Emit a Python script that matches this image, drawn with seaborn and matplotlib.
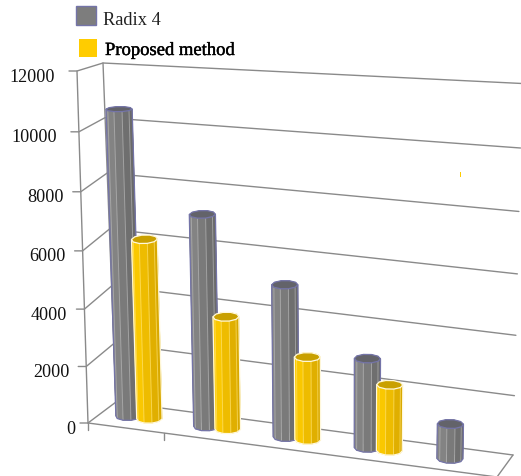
import numpy as np
import pandas as pd
import seaborn as sns
import matplotlib
matplotlib.use("Agg")
import matplotlib.pyplot as plt
import matplotlib.patheffects as pe
from matplotlib.patches import Polygon, Rectangle

# Series values per group
groups = [1, 2, 3, 4, 5]
radix_4 = [10600, 7230, 5140, 2990, 1160]
proposed = [6190, 3840, 2800, 2210, np.nan]
y_ticks = [0, 2000, 4000, 6000, 8000, 10000, 12000]
series_names = ["Radix 4", "Proposed method"]

Y_MAX = 12000
GROUP_STEP = 0.2
BAR_OFFSET = {"Radix 4": 0.069, "Proposed method": 0.123}
RADIUS_U, RADIUS_W = 0.03, 0.2
SIDES = 10

# Corners of the chart box on the canvas: (u, depth, height) each 0 or 1
BOX = {
    (0, 0, 0): (88, 423), (1, 0, 0): (497, 477), (0, 1, 0): (116, 402), (1, 1, 0): (513, 455),
    (0, 0, 1): (77, 71), (1, 0, 1): (504, 93), (0, 1, 1): (103, 63), (1, 1, 1): (522, 83.5),
}
# Perspective bow of the height scale at the four vertical box edges, and of the width scale
HEIGHT_BOW = {(0, 0): -0.044, (1, 0): -0.05, (0, 1): 0.04, (1, 1): -0.05}
WIDTH_BOW = -0.05
LABEL_GAP = {1: 13, 4: 17, 5: 22}

STYLE = {
    "Radix 4": dict(side=["#878787", "#6a6a6a"], top="#63636a", edge="#7474a8", stripe="#bdbdbd"),
    "Proposed method": dict(side=["#ffcd00", "#d9a900"], top="#c9a000", edge="#fff8dc", stripe="#ffe680"),
}
GRID = "#8a8a8a"

sns.set_theme(style="white")
plt.rcParams["font.family"] = ["Liberation Serif", "DejaVu Serif"]


def project(u, w, v):
    """Map chart-box coordinates to canvas coordinates, with a slight perspective bow."""
    t = np.asarray(v, dtype=float) / Y_MAX
    u, w = np.asarray(u, dtype=float), np.asarray(w, dtype=float)
    u = u + WIDTH_BOW * u * (1 - u)
    bow = 0.0
    for (a, b), k in HEIGHT_BOW.items():
        bow = bow + k * (u if a else 1 - u) * (w if b else 1 - w)
    t = t + bow * t * (1 - t)
    xs, ys = 0.0, 0.0
    for (a, b, c), (px, py) in BOX.items():
        k = (u if a else 1 - u) * (w if b else 1 - w) * (t if c else 1 - t)
        xs = xs + k * px
        ys = ys + k * py
    return xs, ys


def cylinder(ax, uc, value, style, z):
    ang = np.linspace(0, 2 * np.pi, SIDES + 1) + np.pi / SIDES
    us = uc + RADIUS_U * np.cos(ang)
    ws = 0.5 + RADIUS_W * np.sin(ang)
    bx, by = project(us, ws, 0)
    tx, ty = project(us, ws, value)
    shades = sns.blend_palette(style["side"], 64)

    # Side facets, far ones first; light from the left, falling off towards the right
    mid_w = (ws[:-1] + ws[1:]) / 2
    for i in np.argsort(-mid_w):
        cx = (np.cos((ang[i] + ang[i + 1]) / 2) + 1) / 2
        shade = shades[int(cx ** 1.8 * 63)]
        pts = [(bx[i], by[i]), (bx[i + 1], by[i + 1]), (tx[i + 1], ty[i + 1]), (tx[i], ty[i])]
        ax.add_patch(Polygon(pts, closed=True, fc=shade, ec=shade, lw=0.3, zorder=z))

    # Pale stripes along the visible facet joints
    left, right = np.argmin(bx[:-1]), np.argmax(bx[:-1])
    for i in range(SIDES):
        if ws[i] < 0.5 and i not in (left, right):
            ax.plot([bx[i], tx[i]], [by[i], ty[i]], color=style["stripe"], lw=0.7, alpha=0.6, zorder=z + 0.1)

    # Silhouette and top cap
    front = [i for i in range(SIDES) if ws[i] < 0.5 or i in (left, right)]
    order = sorted(front, key=lambda i: bx[i])
    outline = [(bx[i], by[i]) for i in order] + [(tx[right], ty[right]), (tx[left], ty[left])]
    ax.add_patch(Polygon(outline, closed=True, fc="none", ec=style["edge"], lw=0.9, zorder=z + 0.2))
    ax.add_patch(Polygon(np.c_[tx[:-1], ty[:-1]], closed=True, fc=style["top"], ec=style["edge"], lw=0.9, zorder=z + 0.3))


fig = plt.figure(figsize=(5.21, 4.76), dpi=100)
ax = fig.add_axes([0, 0, 1, 1])
ax.set_xlim(0, 521)
ax.set_ylim(476, 0)
ax.axis("off")

# Walls, floor and horizontal grid
for v in y_ticks:
    x0, y0 = project(0, 0, v)
    x1, y1 = project(0, 1, v)
    x2, y2 = project(1, 1, v)
    ax.plot([x0 - 8, x0, x1, x2], [y0, y0, y1, y2], color=GRID, lw=1.0, zorder=1)
    ax.text(x0 - LABEL_GAP[len(str(v))], y0 + 6, str(v), ha="right", va="center", fontsize=13.1, color="#111111")

for w_edge in (0, 1):
    xs, ys = project(0, np.array([w_edge, w_edge]), np.array([0, Y_MAX]))
    ax.plot(xs, ys, color=GRID, lw=1.0, zorder=1)

xf, yf = project(np.array([0, 1, 1]), np.array([0, 0, 1]), 0)
ax.plot(xf, yf, color=GRID, lw=1.0, zorder=1)
for u_tick in (0, GROUP_STEP * 0.97):
    xt, yt = project(u_tick, 0, 0)
    ax.plot([xt, xt], [yt, yt + 7], color=GRID, lw=1.0, zorder=1)

# Cylinders, taken from a long-form table so each series keeps its own offset
table = pd.DataFrame({"group": groups, series_names[0]: radix_4, series_names[1]: proposed}).melt(
    id_vars="group", var_name="series", value_name="value"
).dropna()
for _, row in table.iterrows():
    uc = (row["group"] - 1) * GROUP_STEP + BAR_OFFSET[row["series"]]
    layer = 2 + row["group"] + (0.5 if row["series"] == series_names[1] else 0)
    cylinder(ax, uc, row["value"], STYLE[row["series"]], layer)

# Legend swatches and labels
ax.add_patch(Rectangle((75.5, 5.5), 20, 19, fc="#7d7d7d", ec="#7474a8", lw=1.0))
ax.add_patch(Rectangle((79, 39), 18, 18, fc="#ffcc00", ec="none"))
ax.text(103, 25, series_names[0], fontsize=13.2, color="#222222", va="baseline")
ax.text(105, 55, series_names[1], fontsize=13.4, color="black", va="baseline",
        path_effects=[pe.withStroke(linewidth=0.3, foreground="black")])

# Small stray tick of the highlight colour
ax.add_patch(Rectangle((459.8, 172), 1.4, 4.5, fc="#ffcc00", ec="none"))

fig.savefig("out.png", dpi=100, facecolor="white")
